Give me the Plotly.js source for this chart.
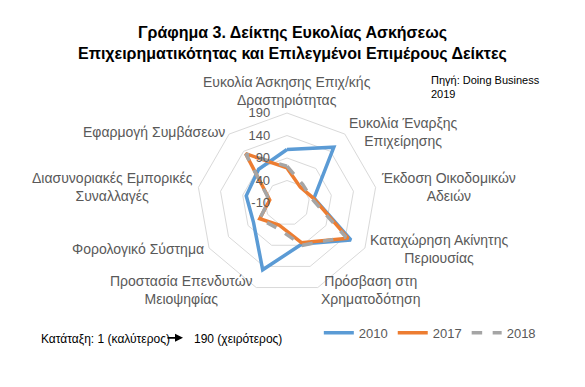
<!DOCTYPE html>
<html>
<head>
<meta charset="utf-8">
<script src="https://cdn.plot.ly/plotly-3.0.1.min.js"></script>
<style>
html,body{margin:0;padding:0;background:#fff;}
#chart{width:585px;height:387px;}
</style>
</head>
<body>
<div id="chart"></div>
<script>
const categories = [
  "Ευκολία Άσκησης Επιχ/κής<br>Δραστηριότητας",
  "Ευκολία Έναρξης<br>Επιχείρησης",
  "Έκδοση Οικοδομικών<br>Αδειών",
  "Καταχώρηση Ακίνητης<br>Περιουσίας",
  "Πρόσβαση στη<br>Χρηματοδότηση",
  "Προστασία Επενδυτών<br>Μειοψηφίας",
  "Φορολογικό Σύστημα",
  "Διασυνοριακές Εμπορικές<br>Συναλλαγές",
  "Εφαρμογή Συμβάσεων"
];
const values2010 = [109, 152, 51, 154, 87, 148, 76, 82, 88];
const values2017 = [68, 36, 50, 147, 84, 42, 60, 29, 133];
const values2018 = [72, 44, 46, 141, 90, 50, 60, 30, 132];
const seriesNames = ["2010", "2017", "2018"];
const radialTicks = [-10, 40, 90, 140, 190];

function closed(a){ return a.concat([a[0]]); }

const W = 585, H = 387;
const colors = ["#5b9bd5", "#ed7d31", "#a5a5a5"];
const dashes = ["solid", "solid", "dash"];
const allVals = [values2010, values2017, values2018];

const traces = allVals.map((v, i) => ({
  type: "scatterpolar",
  mode: "lines",
  r: closed(v),
  theta: closed(categories),
  name: seriesNames[i],
  line: {color: colors[i], width: 3.5, dash: dashes[i]},
  hoverinfo: "skip"
}));

const dom = {x: [0.3368, 0.6444], y: [0.2429, 0.7080]};

// category labels placed just outside the outer ring, anchored like the original
const pcx = (dom.x[0] + dom.x[1]) / 2, pcy = (dom.y[0] + dom.y[1]) / 2;
const Rpx = Math.min((dom.x[1] - dom.x[0]) * W, (dom.y[1] - dom.y[0]) * H) / 2;
const labelAnns = categories.map((c, i) => {
  const a = (90 - i * 360 / categories.length) * Math.PI / 180;
  const cs = Math.cos(a), sn = Math.sin(a);
  const rr = Rpx + 3;
  let xa = cs > 0.15 ? "left" : (cs < -0.15 ? "right" : "center");
  let ya = sn > 0.9 ? "bottom" : "middle";
  return {
    text: c, xref: "paper", yref: "paper",
    x: pcx + rr * cs / W, y: pcy + rr * sn / H,
    xanchor: xa, yanchor: ya, align: "center", showarrow: false,
    font: {size: 14, color: "#595959"}
  };
});

const pad = "\u00a0\u00a0\u00a0\u00a0";

const layout = {
  width: W, height: H,
  margin: {l: 0, r: 0, t: 0, b: 0},
  paper_bgcolor: "#ffffff",
  font: {family: "Liberation Sans, Arial, sans-serif", color: "#595959"},
  showlegend: true,
  legend: {
    orientation: "h", x: 0.545, y: 0.14, xanchor: "left", yanchor: "middle",
    bgcolor: "rgba(0,0,0,0)",
    font: {size: 13, color: "#595959"}, itemwidth: 30, tracegroupgap: 0
  },
  polar: {
    domain: dom,
    bgcolor: "rgba(0,0,0,0)",
    gridshape: "linear",
    radialaxis: {
      range: [-10, 190], tickvals: radialTicks, ticktext: radialTicks.map(t => String(t) + pad),
      angle: 90, tickangle: 90, side: "counterclockwise", showline: false, ticks: "",
      gridcolor: "#d9d9d9", gridwidth: 1,
      tickfont: {size: 13, color: "#595959"}
    },
    angularaxis: {
      rotation: 90, direction: "clockwise",
      showgrid: false, showline: true, linecolor: "#d9d9d9", linewidth: 1,
      ticks: "", showticklabels: false
    }
  },
  annotations: labelAnns.concat([
    {text: "<b>Γράφημα 3. Δείκτης Ευκολίας Ασκήσεως<br>Επιχειρηματικότητας και Επιλεγμένοι Επιμέρους Δείκτες</b>",
     xref: "paper", yref: "paper", x: 0.5, y: 0.888, xanchor: "center", yanchor: "middle",
     showarrow: false, font: {size: 16, color: "#000000"}},
    {text: "Πηγή: Doing Business<br>2019", xref: "paper", yref: "paper",
     x: 0.733, y: 0.775, xanchor: "left", yanchor: "middle", align: "left",
     showarrow: false, font: {size: 11, color: "#000000"}},
    {text: "Κατάταξη: 1 (καλύτερος)", xref: "paper", yref: "paper",
     x: 0.066, y: 0.124, xanchor: "left", yanchor: "middle",
     showarrow: false, font: {size: 12, color: "#000000"}},
    {text: "190 (χειρότερος)", xref: "paper", yref: "paper",
     x: 0.328, y: 0.124, xanchor: "left", yanchor: "middle",
     showarrow: false, font: {size: 12, color: "#000000"}},
    {text: "", xref: "paper", yref: "paper", x: 0.3128, y: 0.127,
     ax: -17, ay: 0, showarrow: true, arrowhead: 2, arrowsize: 1, arrowwidth: 1.6,
     arrowcolor: "#000000"}
  ])
};

Plotly.newPlot("chart", traces, layout, {displayModeBar: false, staticPlot: true});
</script>
</body>
</html>
